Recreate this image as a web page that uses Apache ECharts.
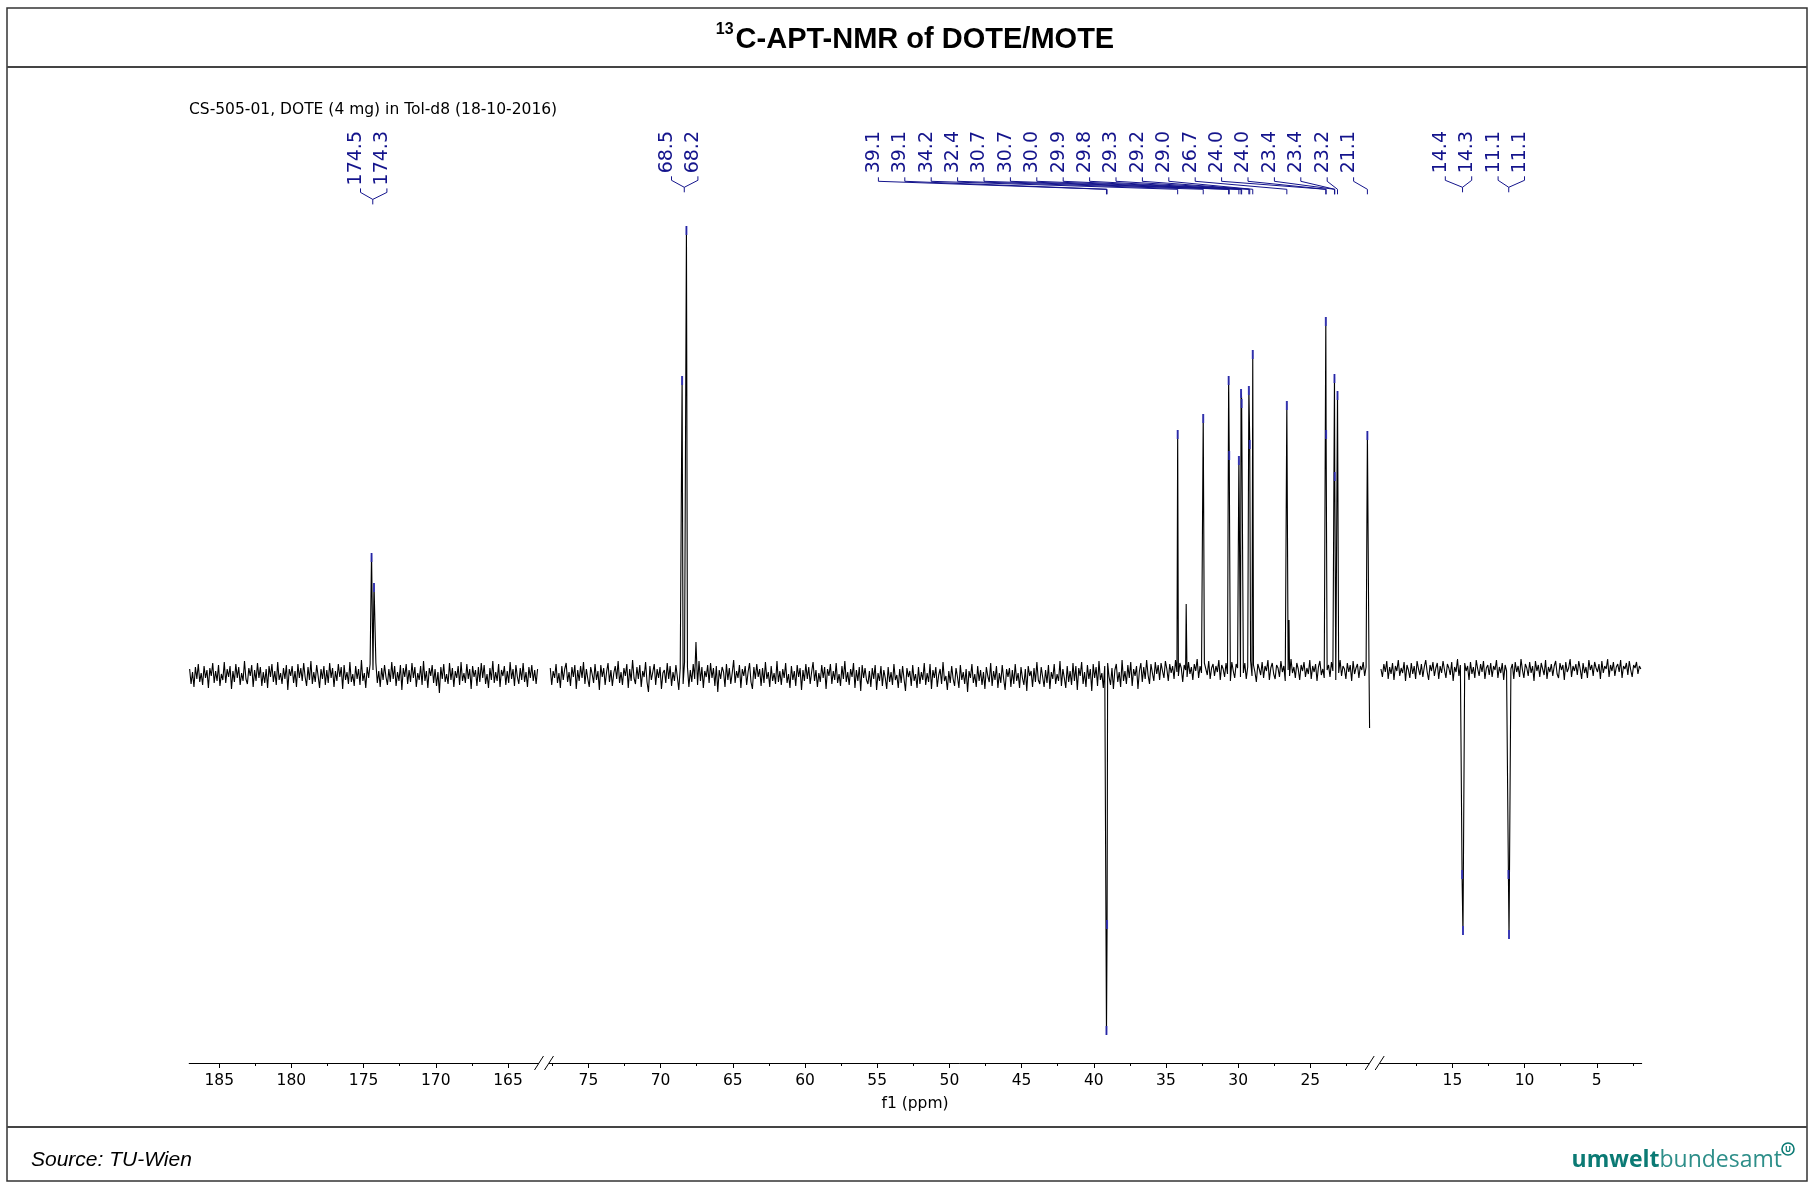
<!DOCTYPE html>
<html><head><meta charset="utf-8">
<script src="https://cdn.jsdelivr.net/npm/echarts@6/dist/echarts.min.js"></script>
<style>html,body{margin:0;padding:0;background:#fff}#c{width:1809px;height:1183px}</style>
</head><body><div id="c"></div>
<script>
// ---------------- DATA ----------------
// chemical shift (ppm) of first sample in each spectrum segment; samples every 0.1 ppm
const segStart = [187.05, 77.64, 19.95];
const sampleStep = 0.1;
// baseline noise (intensity, arbitrary units) estimated from the trace
const noiseSeg1 = [6,-9,3,-12,8,-4,11,-7,2,-10,9,-3,5,-13,7,-1,12,-8,4,-6,
 10,-11,1,-5,13,-8,6,-2,9,-14,4,-7,11,-3,8,-10,2,-6,14,-4,
 -9,7,-1,10,-12,5,-6,12,-3,8,-11,3,-8,6,-13,9,-2,11,-7,4,
 -10,13,-5,2,-9,7,-4,10,-15,6,-1,9,-8,4,-12,11,-3,7,-6,12,
 -2,-11,8,-5,14,-9,3,-7,10,-1,-13,6,-4,9,-10,5,-8,12,-3,7,
 -12,4,-6,11,-2,8,-14,10,-5,3,-9,13,-7,1,-11,9,-4,6,-10,15,
 -6,2,-13,8,-3,11,-9,5,-1,12,-8,4,-12,7,-5,10,-2,-10,6,-7,
 13,-4,9,-11,3,-6,10,-15,7,-2,11,-9,5,-7,12,-3,8,-12,2,-5,
 9,-10,14,-6,4,-13,7,-1,10,-8,6,-11,3,-18,8,-4,11,-7,1,-9,
 12,-5,7,-12,4,-3,9,-10,13,-6,2,-8,11,-4,6,-14,9,-2,5,-11,
 8,-7,12,-3,10,-9,1,-13,7,-5,14,-8,3,-6,11,-12,5,-1,9,-10,
 4,-8,13,-4,6,-11,10,-2,-9,7,-5,12,-7,3,-12,8,-3,10,-6,5,
 -9,6];
const noiseSeg2 = [7,-10,4,-3,11,-8,2,-13,9,-5,6,12,-7,3,-11,8,-2,10,-14,5,
 -6,9,-3,13,-9,6,-4,-12,8,1,-8,11,-5,4,-15,10,-2,7,-10,3,
 12,-7,5,-11,2,9,-4,14,-8,3,-10,7,-1,11,-13,6,-6,15,-3,-9,
 8,-4,10,-12,4,-2,13,-7,-17,9,-5,3,11,-10,6,-3,8,-14,2,5,
 -8,12,-4,9,-11,3,-6,10,-2,-15,7,4,-9,13,-3,8,-12,5,-7,11,
 -4,2,-10,14,-6,8,-13,4,-2,10,-8,12,-3,7,-11,9,-17,5,-4,8,
 3,-12,11,-5,7,-9,2,15,-8,4,-3,10,-13,6,-1,9,-10,3,12,-7,
 -14,8,-4,11,-2,6,-11,7,-8,13,-4,3,-12,9,-6,2,-9,14,-7,4,
 -10,6,-3,12,-8,1,-13,9,-5,4,-11,10,-2,7,-15,5,-6,11,-4,8,
 -9,3,13,-6,5,-12,2,-7,10,-3,8,-14,6,-1,11,-9,4,-5,12,-8,
 1,-11,9,-4,14,-7,3,-10,6,-2,12,-13,5,-6,8,-16,10,-3,7,-5,
 -9,4,-12,7,-4,10,-15,2,-6,9,-11,5,-3,-14,8,-7,3,-10,11,-5,
 0,-13,6,-8,9,-4,-16,7,-2,4,-11,10,-6,1,-13,8,-9,3,-5,12,
 -10,2,-7,11,-14,5,-3,8,-12,0,6,-9,13,-6,-1,-15,4,-8,9,-4,
 -11,7,-2,-13,10,-5,3,-9,6,-17,4,-3,11,-8,1,-12,9,-6,5,-10,
 3,-14,8,-1,-7,12,-11,4,-5,9,-13,2,-8,10,-4,-15,6,-2,7,-12,
 5,-9,11,-6,2,-13,8,-3,-10,6,-16,9,-1,4,-12,7,-7,13,-5,-9,
 8,-2,-12,5,-8,10,-14,3,-4,11,-9,1,-6,14,-11,6,-3,-13,9,-7,
 4,-10,12,-6,9,-15,7,-1,13,-9,3,-12,10,-4,6,-16,11,-3,8,-11,
 14,-5,2,-13,9,-8,12,-2,-10,7,-14,5,11,-7,3,-12,15,-6,4,-9,
 10,-3,13,-11,6,-1,9,-14,4,12,-7,8,-4,15,0,-9,11,2,-6,13,
 1,10,-5,12,4,-3,14,6,-6,11,2,9,-4,15,3,-1,12,7,-7,10,
 5,-2,13,1,8,-5,11,4,16,-3,9,2,-8,12,6,0,14,-4,7,11,
 -1,9,3,15,-5,10,6,-2,12,1,8,-6,13,4,-3,11,7,16,-2,9,
 2,12,-4,8,5,14,-1,10,3,-7,11,6,0,13,-3,9,4,15,-5,7,
 12,1,-4,10,7,-2,14,3,9,-6,11,5,-1,16,2,8,-3,12,6,-5,
 10,4,13,-2,7,1,15,-4,9,3,11,-6,8,14,0,6,-3,12,5,10,
 -2,13,4,8,-5,11,2,15,-1,9,6,-4,12,3,10,-6,14,1,7,11,
 -3,9,5,13,-1,8,2,10];
const noiseSeg3 = [6,-2,11,3,14,-4,8,1,12,-5,9,4,15,-1,7,2,13,-6,10,5,
 -3,12,1,9,-4,14,6,0,11,-2,8,15,3,-5,10,4,13,-1,7,12,
 -4,9,2,14,5,-3,11,7,0,13,-6,8,3,16,-1,10,6,-2,12,4,
 9,-5,13,1,8,-3,15,6,-1,11,3,14,-4,7,10,0,12,-2,9,5,
 15,-3,8,2,12,-5,10,4,14,-1,6,11,-4,13,3,9,-2,16,5,-3,
 11,7,-1,13,2,9,-6,14,4,10,-2,12,6,0,15,-4,8,3,11,-1,
 9,14,1,-3,12,5,10,-5,13,3,7,16,-2,9,4,11,0,14,6,-4,
 12,2,8,-3,15,5,10,-1,13,7,3,11,-4,14,2,9,6,16,-2,10,
 4,13,-1,8,11,3,15,-3,9,6,12,0,14,5,-2,10,7,13,1,9,
 6];
// peaks: [ppm, intensity, picked(1)/not picked(0)]
const seg1Peaks = [[174.45,122,1],[174.28,92,1]];
const seg2Peaks = [[68.51,299,1],[68.21,449,1],[67.55,33,0],
 [39.12,-360,1],[39.08,-254,1],
 [34.19,245,1],[33.60,71,0],[32.42,261,1],
 [30.66,299,1],[30.62,224,1],[29.95,219,1],[29.80,286,1],[29.76,276,1],
 [29.26,289,1],[29.20,235,1],[28.99,325,1],[26.63,274,1],[26.48,55,0],
 [23.93,358,1],[23.91,245,1],[23.33,301,1],[23.31,203,1],[23.12,284,1],
 [21.05,244,1],[20.90,-53,0]];
const seg3Peaks = [[14.33,-204,1],[14.27,-260,1],[11.12,-204,1],[11.08,-264,1]];
// axis range (ppm) of each segment, tick labels and minor ticks
const segMax = [187.08, 78.04, 20.35];
const segMin = [162.47, 20.51, 1.89];
const majorTicks = [[185,180,175,170,165],[75,70,65,60,55,50,45,40,35,30,25],[15,10,5]];
const minorTicks = [[182.5,177.5,172.5,167.5],[77.5,72.5,67.5,62.5,57.5,52.5,47.5,42.5,37.5,32.5,27.5,22.5],[17.5,12.5,7.5,2.5]];
// peak labels (multiplet annotation)
const labelSeg = [0,1,1,2,2];
const labelKind = ['bracket','bracket','single','bracket','bracket'];
const labelTexts = [['174.5','174.3'],['68.5','68.2'],
 ['39.1','39.1','34.2','32.4','30.7','30.7','30.0','29.9','29.8','29.3','29.2','29.0','26.7','24.0','24.0','23.4','23.4','23.2','21.1'],
 ['14.4','14.3'],['11.1','11.1']];
const labelPpm = [[174.45,174.28],[68.51,68.21],
 [39.12,39.08,34.19,32.42,30.66,30.62,29.95,29.80,29.76,29.26,29.20,28.99,26.63,23.93,23.91,23.33,23.31,23.12,21.05],
 [14.33,14.27],[11.12,11.08]];
const titleMain = 'C-APT-NMR of DOTE/MOTE';
const titleSup = '13';
const subtitle = 'CS-505-01, DOTE (4 mg) in Tol-d8 (18-10-2016)';
const axisName = 'f1 (ppm)';
const sourceText = 'Source: TU-Wien';

// ---------------- LAYOUT ----------------
const gridLeft = [189.2, 544.5, 1375.2];
const gridRight = [544.5, 1375.2, 1641.7];
const gridTop = 200, gridBottomY = 1063;
const yMin = -388, yMax = 475;
const labelStartX = [356, 667, 873.9, 1440.8, 1493.6];
const labelStep = 26.4;
const stubDX = 4.5;
const labelTopY = 131;
const NAVY = '#14148c';
const LBL_FONT = '19px "DejaVu Sans", sans-serif';
const AX_FONT = '"DejaVu Sans", sans-serif';

function buildTrace(start, noise, peaks) {
  const pts = [];
  noise.forEach((v, i) => {
    const x = +(start - i * sampleStep).toFixed(3);
    if (!peaks.some(p => Math.abs(p[0] - x) < 0.035)) pts.push([x, v]);
  });
  peaks.forEach(p => pts.push([p[0], p[1]]));
  pts.sort((a, b) => b[0] - a[0]);
  return pts;
}
const noises = [noiseSeg1, noiseSeg2, noiseSeg3];
const peakSets = [seg1Peaks, seg2Peaks, seg3Peaks];

const grids = [], xAxes = [], yAxes = [], series = [];
for (let g = 0; g < 3; g++) {
  grids.push({left: gridLeft[g], width: gridRight[g] - gridLeft[g], top: gridTop, height: gridBottomY - gridTop, containLabel: false});
  xAxes.push({gridIndex: g, type: 'value', inverse: true, min: segMin[g], max: segMax[g], position: 'bottom',
    axisLine: {show: true, onZero: false, lineStyle: {color: '#000', width: 1}},
    axisTick: {show: true, customValues: majorTicks[g], length: 5, lineStyle: {color: '#000', width: 1}},
    axisLabel: {show: true, customValues: majorTicks[g], margin: 10, color: '#000', fontSize: 15.5, fontFamily: AX_FONT},
    splitLine: {show: false}});
  xAxes.push({gridIndex: g, type: 'value', inverse: true, min: segMin[g], max: segMax[g], position: 'bottom',
    axisLine: {show: false, onZero: false},
    axisTick: {show: true, customValues: minorTicks[g], length: 3, lineStyle: {color: '#000', width: 1}},
    axisLabel: {show: false}, splitLine: {show: false}});
  yAxes.push({gridIndex: g, type: 'value', min: yMin, max: yMax, show: false});
  series.push({type: 'line', xAxisIndex: 2 * g, yAxisIndex: g, data: buildTrace(segStart[g], noises[g], peakSets[g]),
    symbol: 'none', showSymbol: false, lineStyle: {color: '#000', width: 1.1}, silent: true, z: 2});
  series.push({type: 'scatter', xAxisIndex: 2 * g, yAxisIndex: g,
    data: peakSets[g].filter(p => p[2]).map(p => ({value: [p[0], p[1]], symbolOffset: [0, p[1] > 0 ? 4.5 : -4.5]})),
    symbol: 'rect', symbolSize: [2, 9], itemStyle: {color: '#3030c8'}, silent: true, z: 5});
}

const chart = echarts.init(document.getElementById('c'), null, {renderer: 'canvas'});
chart.setOption({animation: false, backgroundColor: '#fff', grid: grids, xAxis: xAxes, yAxis: yAxes, series: series});

// ---------------- GRAPHIC ----------------
const mctx = document.createElement('canvas').getContext('2d');
function tw(t, f) { mctx.font = f; return mctx.measureText(t).width; }
const el = [];
el.push({type: 'rect', shape: {x: 7, y: 8, width: 1800, height: 1173}, style: {fill: 'transparent', stroke: '#333', lineWidth: 1.5}, silent: true});
el.push({type: 'line', shape: {x1: 7, y1: 67, x2: 1807, y2: 67}, style: {stroke: '#444', lineWidth: 2}, silent: true});
el.push({type: 'line', shape: {x1: 7, y1: 1127, x2: 1807, y2: 1127}, style: {stroke: '#444', lineWidth: 2}, silent: true});
const TFONT = 'bold 29px "Liberation Sans", Arial, sans-serif';
const SFONT = 'bold 16px "Liberation Sans", Arial, sans-serif';
const tW = tw(titleMain, TFONT), sW = tw(titleSup, SFONT);
const tLeft = 915 - (tW + sW + 2) / 2;
el.push({type: 'text', x: tLeft, y: 30, style: {text: titleSup, font: SFONT, fill: '#000', align: 'left', verticalAlign: 'middle'}, silent: true});
el.push({type: 'text', x: tLeft + sW + 2, y: 40, style: {text: titleMain, font: TFONT, fill: '#000', align: 'left', verticalAlign: 'middle'}, silent: true});
el.push({type: 'text', x: 189, y: 110, style: {text: subtitle, font: '15.5px ' + AX_FONT, fill: '#000', align: 'left', verticalAlign: 'middle'}, silent: true});
el.push({type: 'text', x: 915, y: 1104, style: {text: axisName, font: '15.5px ' + AX_FONT, fill: '#000', align: 'center', verticalAlign: 'middle'}, silent: true});
[gridRight[0], gridRight[1]].forEach(bx => {
  const ay = gridBottomY;
  el.push({type: 'rect', z: 50, shape: {x: bx - 5.5, y: ay - 2, width: 10, height: 4}, style: {fill: '#fff'}, silent: true});
  el.push({type: 'line', z: 51, shape: {x1: bx - 10, y1: ay + 7, x2: bx - 1, y2: ay - 7}, style: {stroke: '#000', lineWidth: 1}, silent: true});
  el.push({type: 'line', z: 51, shape: {x1: bx, y1: ay + 7, x2: bx + 9, y2: ay - 7}, style: {stroke: '#000', lineWidth: 1}, silent: true});
});
labelTexts.forEach((texts, k) => {
  const seg = labelSeg[k];
  const pxs = labelPpm[k].map(p => chart.convertToPixel({xAxisIndex: 2 * seg}, p));
  const bottoms = [];
  texts.forEach((t, i) => {
    const lx = labelStartX[k] + i * labelStep;
    bottoms.push(labelTopY + tw(t, LBL_FONT));
    el.push({type: 'text', x: lx, y: labelTopY, rotation: Math.PI / 2,
      style: {text: t, font: LBL_FONT, fill: NAVY, align: 'right', verticalAlign: 'middle'}, silent: true});
  });
  if (labelKind[k] === 'single') {
    texts.forEach((t, i) => {
      const sx = labelStartX[k] + i * labelStep + stubDX, tb = bottoms[i];
      el.push({type: 'polyline', shape: {points: [[sx, tb + 4], [sx, tb + 8], [pxs[i], tb + 16], [pxs[i], tb + 21]]},
        style: {stroke: NAVY, lineWidth: 1, fill: null}, silent: true});
    });
  } else {
    const pm = pxs.reduce((a, b) => a + b, 0) / pxs.length;
    const tb = Math.max.apply(null, bottoms);
    texts.forEach((t, i) => {
      const sx = labelStartX[k] + i * labelStep + stubDX;
      el.push({type: 'polyline', shape: {points: [[sx, tb + 3], [sx, tb + 7], [pm, tb + 14]]},
        style: {stroke: NAVY, lineWidth: 1, fill: null}, silent: true});
    });
    el.push({type: 'line', shape: {x1: pm, y1: tb + 14, x2: pm, y2: tb + 19}, style: {stroke: NAVY, lineWidth: 1}, silent: true});
  }
});
el.push({type: 'text', x: 31, y: 1160, style: {text: sourceText, font: 'italic 21px "Liberation Sans", Arial, sans-serif', fill: '#000', align: 'left', verticalAlign: 'middle'}, silent: true});
el.push({type: 'text', x: 1782, y: 1160, style: {text: '{b|umwelt}{r|bundesamt}', align: 'right', verticalAlign: 'middle',
  rich: {b: {font: 'bold 23px "Open Sans", sans-serif', fill: '#0b7a74'}, r: {font: '23px "Open Sans", sans-serif', fill: '#2d8e89'}}}, silent: true});
el.push({type: 'circle', shape: {cx: 1788, cy: 1149, r: 6}, style: {fill: '#fff', stroke: '#0b7a74', lineWidth: 1.6}, silent: true});
el.push({type: 'text', x: 1788, y: 1149.5, style: {text: 'U', font: 'bold 8px "Open Sans", sans-serif', fill: '#0b7a74', align: 'center', verticalAlign: 'middle'}, silent: true});

chart.setOption({graphic: {elements: el}});
</script></body></html>
